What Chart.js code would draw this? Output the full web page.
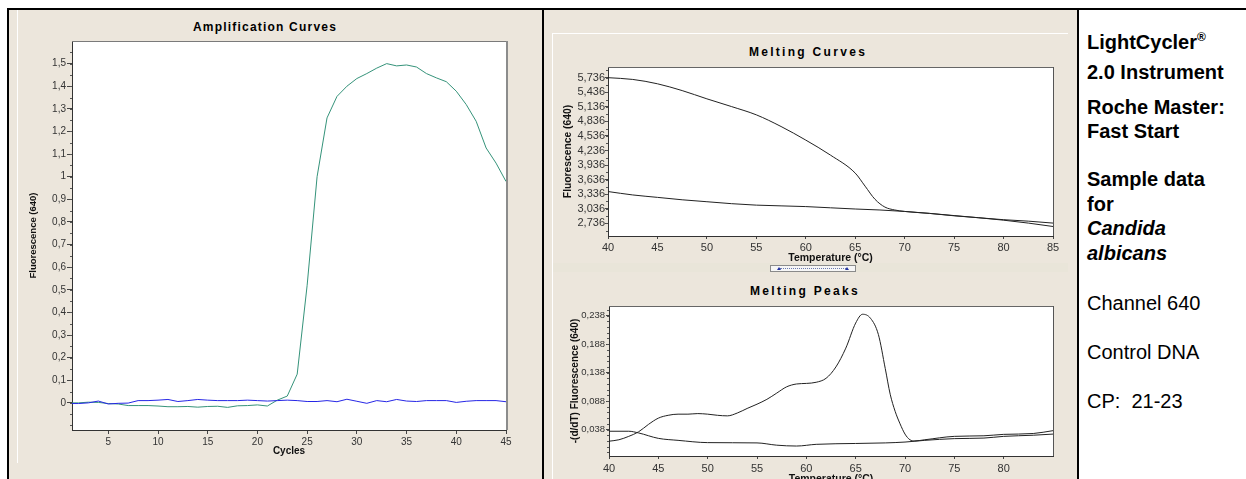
<!DOCTYPE html>
<html>
<head>
<meta charset="utf-8">
<script src="https://cdn.jsdelivr.net/npm/chart.js@4.4.1/dist/chart.umd.min.js"></script>
<style>
    body { margin: 0; width: 1246px; height: 479px; overflow: hidden; position: relative; background: #fff; font-family: "Liberation Sans", Arial, sans-serif; }
    .linea { position: absolute; background: #000; }
    .panel { position: absolute; background: #ece6dc; }
    .blanca { position: absolute; background: #fff; }
    .titulo { position: absolute; font-weight: bold; font-size: 12px; line-height: 14px; color: #000; white-space: nowrap; transform: translateX(-50%); }
    canvas { position: absolute; }
    .nota { position: absolute; left: 1087px; font-size: 20px; line-height: 20px; white-space: pre; color: #000; }
    .nota b { font-weight: bold; }
    .nota sup { font-size: 12px; vertical-align: 8px; line-height: 0; }
    #barrita { position: absolute; left: 770px; top: 265px; width: 84px; height: 5px; border: 1px solid #8a8a8a; background: #f6f6f6; }
    #barrita .punteado { position: absolute; left: 9px; right: 9px; top: 2px; border-top: 1px dotted #6a7ab0; }
    #barrita .flecha { position: absolute; top: 1px; width: 0; height: 0; border-left: 2px solid transparent; border-right: 2px solid transparent; border-bottom: 3px solid #2030a0; }
</style>
</head>
<body>

<!-- Fondos y marcos -->
<div class="panel" style="left:9px; top:10px; width:533px; height:469px;"></div>
<div class="panel" style="left:544px; top:10px; width:533px; height:469px;"></div>
<div class="blanca" style="left:17px; top:10px; width:1px; height:453px;"></div>
<div class="blanca" style="left:552px; top:33px; width:1px; height:446px;"></div>
<div class="blanca" style="left:552px; top:33px; width:516px; height:1px;"></div>
<div class="panel" style="left:553px; top:263px; width:515px; height:9px; background:#e9e5d9;"></div>
<div class="linea" style="left:7px; top:8px; width:1239px; height:2px;"></div>
<div class="linea" style="left:7px; top:8px; width:2px; height:471px;"></div>
<div class="linea" style="left:542px; top:8px; width:2px; height:471px;"></div>
<div class="linea" style="left:1077px; top:8px; width:2px; height:471px;"></div>

<!-- Títulos -->
<div class="titulo" style="left:265px; top:20px; letter-spacing:1.2px;">Amplification Curves</div>
<div class="titulo" style="left:808px; top:45px; letter-spacing:2.3px;">Melting Curves</div>
<div class="titulo" style="left:805px; top:284px; letter-spacing:2.3px;">Melting Peaks</div>

<canvas id="amplificacion" width="532" height="469" style="left:10px; top:10px;"></canvas>
<canvas id="curvas" width="525" height="240" style="left:552px; top:34px;"></canvas>
<canvas id="picos" width="525" height="230" style="left:552px; top:274px;"></canvas>

<div id="barrita"><div class="punteado"></div><div class="flecha" style="left:6px;"></div><div class="flecha" style="right:6px;"></div></div>

<!-- Texto de la derecha -->
<div class="nota" style="top:32px;"><b>LightCycler<sup>®</sup></b></div>
<div class="nota" style="top:62px;"><b>2.0 Instrument</b></div>
<div class="nota" style="top:97px;"><b>Roche Master:</b></div>
<div class="nota" style="top:121px;"><b>Fast Start</b></div>
<div class="nota" style="top:169px;"><b>Sample data</b></div>
<div class="nota" style="top:194px;"><b>for</b></div>
<div class="nota" style="top:218px;"><b><i>Candida</i></b></div>
<div class="nota" style="top:243px;"><b><i>albicans</i></b></div>
<div class="nota" style="top:293px;">Channel 640</div>
<div class="nota" style="top:342px;">Control DNA</div>
<div class="nota" style="top:391px;">CP:  21-23</div>

<script>
// Curvas de amplificación (ciclos 1 a 45)
const ciclos = [1, 2, 3, 4, 5, 6, 7, 8, 9, 10, 11, 12, 13, 14, 15, 16, 17, 18, 19, 20, 21, 22, 23,
    24, 25, 26, 27, 28, 29, 30, 31, 32, 33, 34, 35, 36, 37, 38, 39, 40, 41, 42, 43, 44, 45];
const ampMuestra = [0.0, 0.0, 0.003, 0.002, -0.003, -0.005, -0.012, -0.012, -0.012, -0.014, -0.017, -0.017,
    -0.016, -0.019, -0.016, -0.015, -0.02, -0.013, -0.012, -0.009, -0.014, 0.012, 0.03, 0.127, 0.52, 1.0,
    1.26, 1.355, 1.40, 1.434, 1.456, 1.48, 1.5, 1.49, 1.494, 1.485, 1.456, 1.437, 1.42, 1.378, 1.319,
    1.245, 1.127, 1.06, 0.979];
const ampControl = [-0.003, -0.003, 0.0, 0.008, -0.005, -0.002, -0.001, 0.01, 0.01, 0.012, 0.015, 0.006,
    0.01, 0.015, 0.012, 0.01, 0.01, 0.01, 0.012, 0.01, 0.008, 0.01, 0.012, 0.01, 0.006, 0.006, 0.01, 0.005,
    0.016, 0.007, -0.002, 0.01, 0.005, 0.015, 0.008, 0.006, 0.01, 0.01, 0.01, 0.002, 0.007, 0.01, 0.01,
    0.01, 0.005];
const ampTicksY = [0, 0.1, 0.2, 0.3, 0.4, 0.5, 0.6, 0.7, 0.8, 0.9, 1, 1.1, 1.2, 1.3, 1.4, 1.5];
const ampTicksX = [5, 10, 15, 20, 25, 30, 35, 40, 45];

// Curvas de fusión
const tempCurvaMuestra = [40, 42.5, 45, 47.5, 50, 52.5, 55, 57.5, 60, 62.5, 65, 66, 67, 68, 69, 70, 72.5, 75, 77.5, 80, 82.5, 85];
const curvaMuestra = [5.736, 5.70, 5.61, 5.47, 5.30, 5.14, 4.97, 4.73, 4.45, 4.14, 3.77, 3.50, 3.23, 3.07, 3.01, 2.98, 2.94, 2.89, 2.85, 2.80, 2.74, 2.67];
const tempCurvaControl = [40, 42.5, 45, 47.5, 50, 52.5, 55, 57.5, 60, 62.5, 65, 67.5, 70, 72.5, 75, 77.5, 80, 82.5, 85];
const curvaControl = [3.39, 3.32, 3.27, 3.22, 3.18, 3.14, 3.11, 3.095, 3.08, 3.055, 3.03, 3.01, 2.98, 2.94, 2.895, 2.85, 2.81, 2.78, 2.74];
const curvasTicksY = [2.736, 3.036, 3.336, 3.636, 3.936, 4.236, 4.536, 4.836, 5.136, 5.436, 5.736];
const curvasTicksX = [40, 45, 50, 55, 60, 65, 70, 75, 80, 85];

// Picos de fusión
const tempPicoMuestra = [40, 41, 42, 43, 44, 45, 46, 47, 48, 49, 50, 51, 52, 53, 54, 55, 56, 57, 58, 59, 60, 61, 62, 63, 64, 65,
    65.7, 66.5, 67.3, 68, 68.5, 69, 69.5, 70, 70.5, 71, 72, 75, 78, 80, 83, 85];
const picoMuestra = [0.0175, 0.020, 0.026, 0.034, 0.047, 0.058, 0.063, 0.065, 0.065, 0.066, 0.065, 0.063, 0.062, 0.067,
    0.075, 0.0825, 0.091, 0.102, 0.113, 0.118, 0.119, 0.121, 0.128, 0.148, 0.181, 0.225, 0.2405, 0.2335, 0.205, 0.145,
    0.10, 0.07, 0.048, 0.03, 0.02, 0.018, 0.020, 0.026, 0.027, 0.0295, 0.031, 0.036];
const tempPicoControl = [40, 42, 43, 45, 47, 50, 55, 57, 59, 61, 65, 68, 70, 72, 75, 78, 80, 83, 85];
const picoControl = [0.035, 0.035, 0.032, 0.0225, 0.019, 0.015, 0.0145, 0.0105, 0.009, 0.012, 0.0135, 0.0145, 0.016,
    0.019, 0.022, 0.023, 0.026, 0.028, 0.030];
const picosTicksY = [0.038, 0.088, 0.138, 0.188, 0.238];
const picosTicksX = [40, 45, 50, 55, 60, 65, 70, 75, 80];

// Formato con coma decimal
const conComa = (v, dec) => (dec === undefined ? String(Math.round(v * 10) / 10) : v.toFixed(dec)).replace('.', ',');

// Une dos arreglos en puntos {x, y}
const puntos = (xs, ys) => xs.map((x, i) => ({ x: x, y: ys[i] }));

// Fondo blanco y borde del área de la gráfica
const marcoGrafica = {
    id: 'marcoGrafica',
    beforeDraw(chart) {
        const a = chart.chartArea;
        chart.ctx.save();
        chart.ctx.fillStyle = '#fff';
        chart.ctx.fillRect(a.left, a.top, a.right - a.left, a.bottom - a.top);
        chart.ctx.restore();
    },
    afterDraw(chart, args, opts) {
        const a = chart.chartArea;
        const ctx = chart.ctx;
        ctx.save();
        ctx.strokeStyle = opts.colorArriba || '#777';
        ctx.lineWidth = 1;
        ctx.beginPath();
        ctx.moveTo(a.left, a.top + 0.5);
        ctx.lineTo(a.right, a.top + 0.5);
        ctx.stroke();
        ctx.strokeStyle = opts.colorDerecha || '#777';
        ctx.lineWidth = opts.anchoDerecha || 1;
        ctx.beginPath();
        ctx.moveTo(a.right + ctx.lineWidth / 2, a.top);
        ctx.lineTo(a.right + ctx.lineWidth / 2, a.bottom);
        ctx.stroke();
        ctx.restore();
    }
};

// Marcas menores en el eje Y
const marcasMenores = {
    id: 'marcasMenores',
    afterDraw(chart, args, opts) {
        if (!opts.divisiones) return;
        const y = chart.scales.y;
        const valores = y.ticks.map(t => t.value);
        const paso = (valores[1] - valores[0]) / opts.divisiones;
        const ctx = chart.ctx;
        const izq = chart.chartArea.left;
        ctx.save();
        ctx.strokeStyle = '#555';
        ctx.lineWidth = 1;
        ctx.beginPath();
        let v = valores[0];
        while (v - paso >= y.min) v -= paso;
        for (; v <= y.max; v += paso) {
            const py = Math.round(y.getPixelForValue(v)) + 0.5;
            ctx.moveTo(izq - 2, py);
            ctx.lineTo(izq, py);
        }
        ctx.stroke();
        ctx.restore();
    }
};

// Escala común
const escala = (cfg) => ({
    type: 'linear',
    min: cfg.min,
    max: cfg.max,
    afterBuildTicks: s => { s.ticks = cfg.ticks.map(v => ({ value: v })); },
    afterFit: s => { if (cfg.ancho) s.width = cfg.ancho; if (cfg.alto) s.height = cfg.alto; },
    border: { display: true, color: '#333', width: 1 },
    grid: { drawOnChartArea: false, drawTicks: true, tickLength: cfg.largo, color: '#444' },
    ticks: {
        autoSkip: false, maxRotation: 0, padding: cfg.pad, color: '#333',
        font: { family: 'Liberation Sans, Arial, sans-serif', size: cfg.tamTicks || 10 },
        callback: v => conComa(v, cfg.dec)
    },
    title: {
        display: true, text: cfg.titulo, color: '#111',
        font: { family: 'Liberation Sans, Arial, sans-serif', size: cfg.tamTitulo, weight: 'bold' },
        padding: cfg.padTitulo
    }
});

const linea = (datos, color, suave) => ({
    data: datos,
    borderColor: color,
    borderWidth: 1,
    pointRadius: 0,
    fill: false,
    tension: suave ? 0.4 : 0,
    cubicInterpolationMode: suave ? 'monotone' : 'default'
});

const opcionesBase = (padding, escalas, marco, menores) => ({
    responsive: false,
    animation: false,
    devicePixelRatio: 1,
    layout: { padding: padding },
    plugins: {
        legend: { display: false },
        tooltip: { enabled: false },
        marcoGrafica: marco,
        marcasMenores: { divisiones: menores }
    },
    scales: escalas
});

// Gráfica de amplificación
new Chart(document.getElementById('amplificacion').getContext('2d'), {
    type: 'line',
    data: {
        datasets: [
            linea(puntos(ciclos, ampControl), '#2626e6', false),
            linea(puntos(ciclos, ampMuestra), '#35937a', false)
        ]
    },
    options: opcionesBase({ left: 10, top: 31, right: 36, bottom: 9 }, {
        x: escala({ min: 1.35, max: 45, ticks: ampTicksX, alto: 40, largo: 4, pad: 2, dec: 0,
            titulo: 'Cycles', tamTitulo: 10, padTitulo: { top: 0, bottom: 12.6 } }),
        y: escala({ min: -0.12, max: 1.6, ticks: ampTicksY, ancho: 52, largo: 5, pad: 1,
            titulo: 'Fluorescence (640)', tamTitulo: 9.5, padTitulo: { top: 7.3, bottom: 0 } })
    }, { colorArriba: '#7a7a7a', colorDerecha: '#8c8c8c', anchoDerecha: 2 }, 2),
    plugins: [marcoGrafica, marcasMenores]
});

// Gráfica de curvas de fusión
new Chart(document.getElementById('curvas').getContext('2d'), {
    type: 'line',
    data: {
        datasets: [
            linea(puntos(tempCurvaControl, curvaControl), '#222', true),
            linea(puntos(tempCurvaMuestra, curvaMuestra), '#222', true)
        ]
    },
    options: opcionesBase({ left: 6, top: 33, right: 24, bottom: 0 }, {
        x: escala({ min: 40, max: 85, ticks: curvasTicksX, alto: 38, largo: 3, pad: 2, dec: 0, tamTicks: 11,
            titulo: 'Temperature (°C)', tamTitulo: 10.5, padTitulo: { top: 0, bottom: 9.7 } }),
        y: escala({ min: 2.474, max: 5.956, ticks: curvasTicksY, ancho: 50, largo: 3, pad: 0, dec: 3, tamTicks: 11,
            titulo: 'Fluorescence (640)', tamTitulo: 10.3, padTitulo: { top: 4.3, bottom: 0 } })
    }, { colorArriba: '#666', colorDerecha: '#555', anchoDerecha: 1 }, 2),
    plugins: [marcoGrafica, marcasMenores]
});

// Gráfica de picos de fusión
new Chart(document.getElementById('picos').getContext('2d'), {
    type: 'line',
    data: {
        datasets: [
            linea(puntos(tempPicoControl, picoControl), '#222', true),
            linea(puntos(tempPicoMuestra, picoMuestra), '#222', true)
        ]
    },
    options: opcionesBase({ left: 7, top: 32, right: 24, bottom: 8 }, {
        x: escala({ min: 40, max: 85, ticks: picosTicksX, alto: 40, largo: 3, pad: 3, dec: 0, tamTicks: 11,
            titulo: 'Temperature (°C)', tamTitulo: 10.5, padTitulo: { top: 0, bottom: 11 } }),
        y: escala({ min: -0.0085, max: 0.255, ticks: picosTicksY, ancho: 50, largo: 3, pad: 1, dec: 3, tamTicks: 9.5,
            titulo: '-(d/dT) Fluorescence (640)', tamTitulo: 10, padTitulo: { top: 10, bottom: 0 } })
    }, { colorArriba: '#666', colorDerecha: '#555', anchoDerecha: 1 }, 5),
    plugins: [marcoGrafica, marcasMenores]
});
</script>
</body>
</html>
